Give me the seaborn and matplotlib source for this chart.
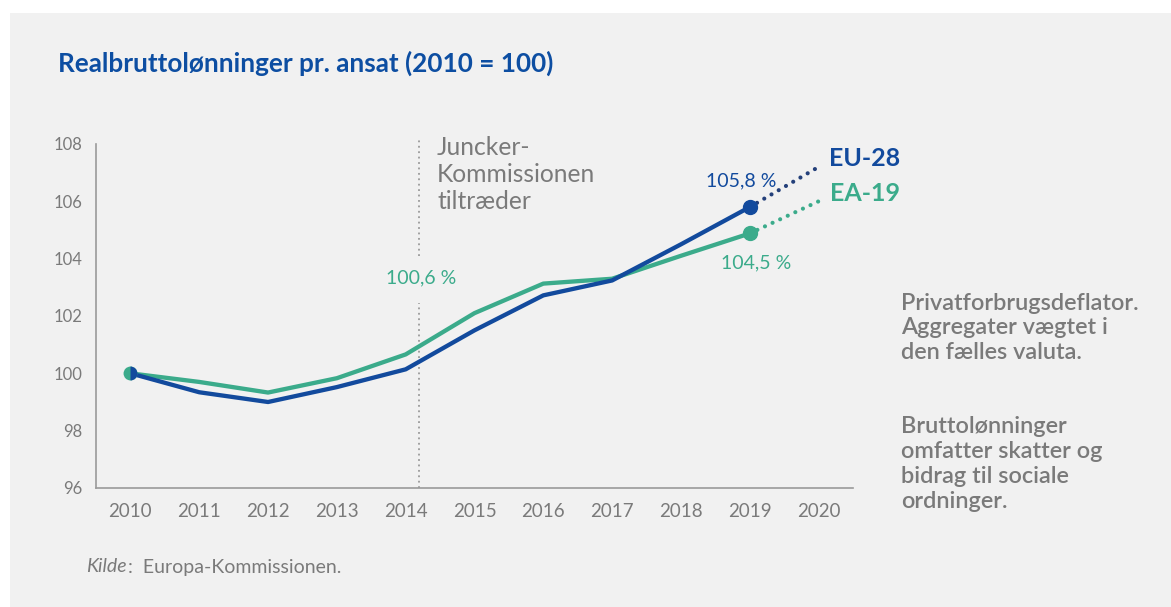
import matplotlib
matplotlib.use("Agg")
import matplotlib.pyplot as plt
from matplotlib.patches import Rectangle
import pandas as pd
import seaborn as sns

# data (index, 2010 = 100)
years = [2010, 2011, 2012, 2013, 2014, 2015, 2016, 2017, 2018, 2019]
eu28 = [100.0, 99.34, 99.0, 99.52, 100.14, 101.5, 102.72, 103.24, 104.5, 105.8]
ea19 = [100.0, 99.7, 99.33, 99.83, 100.66, 102.1, 103.13, 103.3, 104.1, 104.88]
proj_years = [2019, 2020]
eu28_proj = [105.8, 107.2]
ea19_proj = [104.88, 106.0]
juncker_start = 2014.2
y_ticks = [96, 98, 100, 102, 104, 106, 108]
x_labels = [2010, 2011, 2012, 2013, 2014, 2015, 2016, 2017, 2018, 2019, 2020]

BLUE = "#124a9d"
NAVY = "#24407a"
GREEN = "#3bab8b"
GREY = "#7a7a7a"
AXIS = "#9a9a9a"
BG = "#f1f1f1"

sns.set_style("white")
plt.rcParams["font.family"] = ["Lato", "DejaVu Sans"]

W, H = 1171, 607
fig = plt.figure(figsize=(W / 100, H / 100), dpi=100)
fig.patch.set_facecolor("white")
fig.patches.append(Rectangle((10 / W, 0), 1 - 10 / W, 1 - 13 / H,
                             transform=fig.transFigure, facecolor=BG,
                             edgecolor="none", zorder=-10))


def fx(px):
    return px / W


def fy(py):
    return 1 - py / H


ax = fig.add_axes([fx(96), fy(488), fx(853) - fx(96), fy(144) - fy(488)])
ax.set_facecolor("none")

df = pd.DataFrame({"year": years * 2,
                   "value": eu28 + ea19,
                   "series": ["EU-28"] * len(years) + ["EA-19"] * len(years)})
sns.lineplot(data=df, x="year", y="value", hue="series",
             palette={"EU-28": BLUE, "EA-19": GREEN},
             hue_order=["EA-19", "EU-28"], linewidth=3.1,
             legend=False, ax=ax, zorder=3)

# projections (dotted)
proj = pd.DataFrame({"year": proj_years * 2,
                     "value": eu28_proj + ea19_proj,
                     "series": ["EU-28"] * 2 + ["EA-19"] * 2})
sns.lineplot(data=proj, x="year", y="value", hue="series",
             palette={"EU-28": NAVY, "EA-19": GREEN},
             linewidth=3.0, dashes=False, legend=False, ax=ax, zorder=2)
for line in ax.lines[-2:]:
    line.set_linestyle((0, (0.01, 2.0)))
    line.set_dash_capstyle("round")

# markers
ax.plot(years[-1], eu28[-1], "o", color=BLUE, markersize=10, zorder=5)
ax.plot(years[-1], ea19[-1], "o", color=GREEN, markersize=10, zorder=5)
ax.plot(years[0], ea19[0], "o", color=GREEN, markersize=10,
        markeredgewidth=0, zorder=6)
ax.plot(years[0], eu28[0], "o", markersize=10, fillstyle="right",
        markerfacecolor=BLUE, markerfacecoloralt="none",
        markeredgewidth=0, zorder=7)

# Juncker line (gap behind the label)
ax.vlines(juncker_start, 96, 102.47, colors=AXIS, linestyles=(0, (1, 2)),
          linewidth=1.3, zorder=1)
ax.vlines(juncker_start, 104.1, 108.15, colors=AXIS, linestyles=(0, (1, 2)),
          linewidth=1.3, zorder=1, clip_on=False)

# value labels
ax.annotate("105,8 %", (years[-1], eu28[-1]), xytext=(-9, 26),
            textcoords="offset pixels", ha="center", va="center",
            color=BLUE, fontsize=14)
ax.annotate("104,5 %", (years[-1], ea19[-1]), xytext=(6, -29),
            textcoords="offset pixels", ha="center", va="center",
            color=GREEN, fontsize=14)
ax.annotate("100,6 %", (years[4], ea19[4]), xytext=(15, 77),
            textcoords="offset pixels", ha="center", va="center",
            color=GREEN, fontsize=14)
ax.annotate("EU-28", (proj_years[-1], eu28_proj[-1]), xytext=(10, 8),
            textcoords="offset pixels", ha="left", va="center",
            color=BLUE, fontsize=18, fontweight="bold")
ax.annotate("EA-19", (proj_years[-1], ea19_proj[-1]), xytext=(11, 8),
            textcoords="offset pixels", ha="left", va="center",
            color=GREEN, fontsize=18, fontweight="bold")

# axes styling
ax.set_xlim(2009.5, 2020.5)
ax.set_ylim(96, 108)
ax.set_xticks(x_labels)
ax.set_xticklabels([str(y) for y in x_labels])
ax.set_xticks([y + 0.5 for y in x_labels], minor=True)
ax.set_yticks(y_ticks)
ax.set_xlabel("")
ax.set_ylabel("")
ax.tick_params(axis="x", which="major", length=0, pad=11,
               labelsize=13.5, labelcolor=GREY)
ax.tick_params(axis="x", which="minor", direction="in", length=8,
               width=1.2, color=AXIS)
ax.tick_params(axis="y", direction="in", length=19, width=1.2, color=AXIS,
               pad=10, labelsize=12, labelcolor=GREY)
sns.despine(ax=ax)
for side in ["left", "bottom"]:
    ax.spines[side].set_color(AXIS)
    ax.spines[side].set_linewidth(1.2)

# texts
fig.text(fx(58), fy(63), "Realbruttolønninger pr. ansat (2010 = 100)",
         ha="left", va="center", color="#0d4ea2", fontsize=18.8,
         fontweight="bold")
fig.text(fx(437), fy(136), "Juncker-\nKommissionen\ntiltræder",
         ha="left", va="top", color=GREY, fontsize=17.7, linespacing=1.22)
fig.text(fx(901), fy(293),
         "Privatforbrugsdeflator.\nAggregater vægtet i\nden fælles valuta.",
         ha="left", va="top", color=GREY, fontsize=16.9, linespacing=1.2,
         fontweight="semibold")
fig.text(fx(901), fy(416),
         "Bruttolønninger\nomfatter skatter og\nbidrag til sociale\nordninger.",
         ha="left", va="top", color=GREY, fontsize=16.9, linespacing=1.24,
         fontweight="semibold")
fig.text(fx(86), fy(567), "Kilde", ha="left", va="center", color=GREY,
         fontsize=14, style="italic")
fig.text(fx(128), fy(567), ":  Europa-Kommissionen.", ha="left", va="center",
         color=GREY, fontsize=14)

fig.savefig("out.png", dpi=100, facecolor="white")
